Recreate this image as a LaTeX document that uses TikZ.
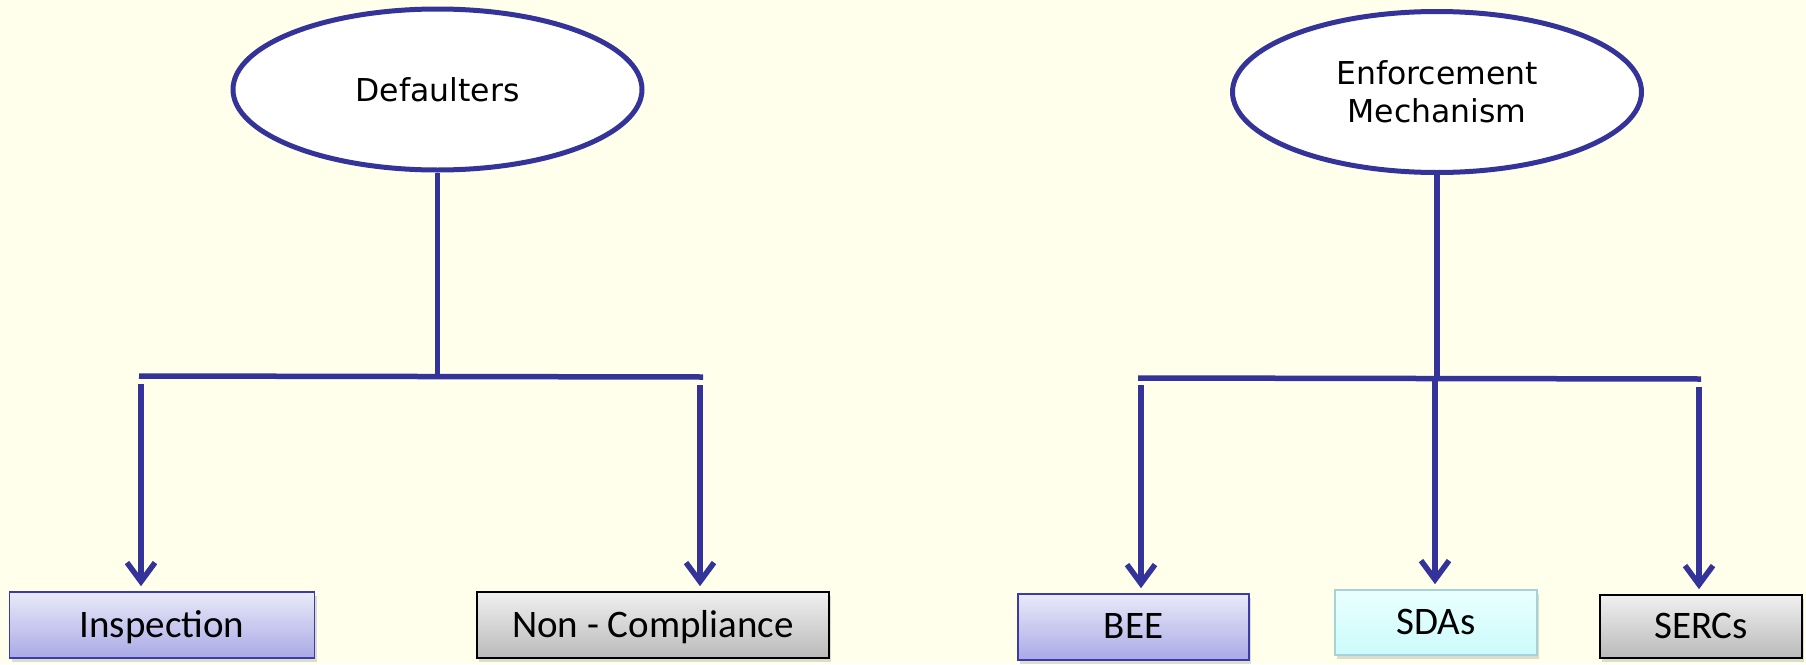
\documentclass[tikz,border=0pt]{standalone}
\usepackage{fontspec}
\setmainfont{Carlito}
\newfontfamily\verd{DejaVu Sans}
\usetikzlibrary{arrows.meta,shapes.geometric,shadows}
\definecolor{bgc}{HTML}{FFFFEB}
\definecolor{lc}{HTML}{333399}
\definecolor{bdb}{HTML}{3B3BAA}
\definecolor{btop}{HTML}{EAEAF9}
\definecolor{bbot}{HTML}{A9A9E6}
\definecolor{gtop}{HTML}{F0F0F0}
\definecolor{gbot}{HTML}{BABABA}
\definecolor{ctop}{HTML}{EAFFFF}
\definecolor{cbot}{HTML}{CCFBFB}
\definecolor{cbd}{HTML}{A6D2D8}
\begin{document}
\begin{tikzpicture}[x=1pt,y=-1pt,
  conn/.style={draw=lc,line width=5.5pt},
  arr/.style={conn,-{Straight Barb[length=19pt,width=28pt]},shorten >=5pt},
  oval/.style={ellipse,draw=lc,line width=5pt,fill=white,minimum width=409pt,minimum height=161pt,inner sep=0pt,font=\verd\fontsize{31.5}{38}\selectfont,align=center},
  boxbase/.style={rectangle,line width=1.6pt,inner sep=0pt,font=\fontsize{39}{46}\selectfont,text depth=2pt,drop shadow={shadow xshift=2pt,shadow yshift=-4pt,opacity=0.22,fill=black!60}},
  bluebox/.style={boxbase,draw=bdb,top color=btop,bottom color=bbot},
  graybox/.style={boxbase,draw=black,top color=gtop,bottom color=gbot},
  cyanbox/.style={boxbase,draw=cbd,top color=ctop,bottom color=cbot}
]
\fill[bgc] (0,0) rectangle (1806,664);
\useasboundingbox (0,0) rectangle (1806,664);

% top ovals
\node[oval] (D) at (437.5,89.5) {Defaulters};
\node[oval] (E) at (1437,92) {Enforcement\\Mechanism};

% boxes
\node[bluebox,minimum width=305pt,minimum height=66pt] (I) at (162,625) {Inspection};
\node[graybox,minimum width=352pt,minimum height=66pt] (N) at (653,625) {Non - Compliance};
\node[bluebox,minimum width=231pt,minimum height=66pt] (B) at (1133.5,627) {BEE};
\node[cyanbox,minimum width=202pt,minimum height=65pt] (S) at (1436,622.5) {SDAs};
\node[graybox,minimum width=202pt,minimum height=63pt] (R) at (1701,626.5) {SERCs};

% left tree
\coordinate (LBl) at (139,376);
\coordinate (LBr) at (703,377);
\draw[conn] (D.south) -- (D.south |- LBl);
\draw[conn] (LBl) -- (LBr);
\coordinate (a1) at (141,384);
\coordinate (a2) at (700,385);
\draw[arr] (a1) -- (a1 |- I.north);
\draw[arr] (a2) -- (a2 |- N.north);

% right tree
\coordinate (RBl) at (1138,378);
\coordinate (RBr) at (1701,379);
\draw[conn] (E.south) -- (E.south |- RBl);
\draw[conn] (RBl) -- (RBr);
\coordinate (b1) at (1141,385);
\coordinate (b2) at (1435,381);
\coordinate (b3) at (1699,387);
\draw[arr] (b1) -- (b1 |- B.north);
\draw[arr] (b2) -- (b2 |- S.north);
\draw[arr] (b3) -- (b3 |- R.north);
\end{tikzpicture}
\end{document}
